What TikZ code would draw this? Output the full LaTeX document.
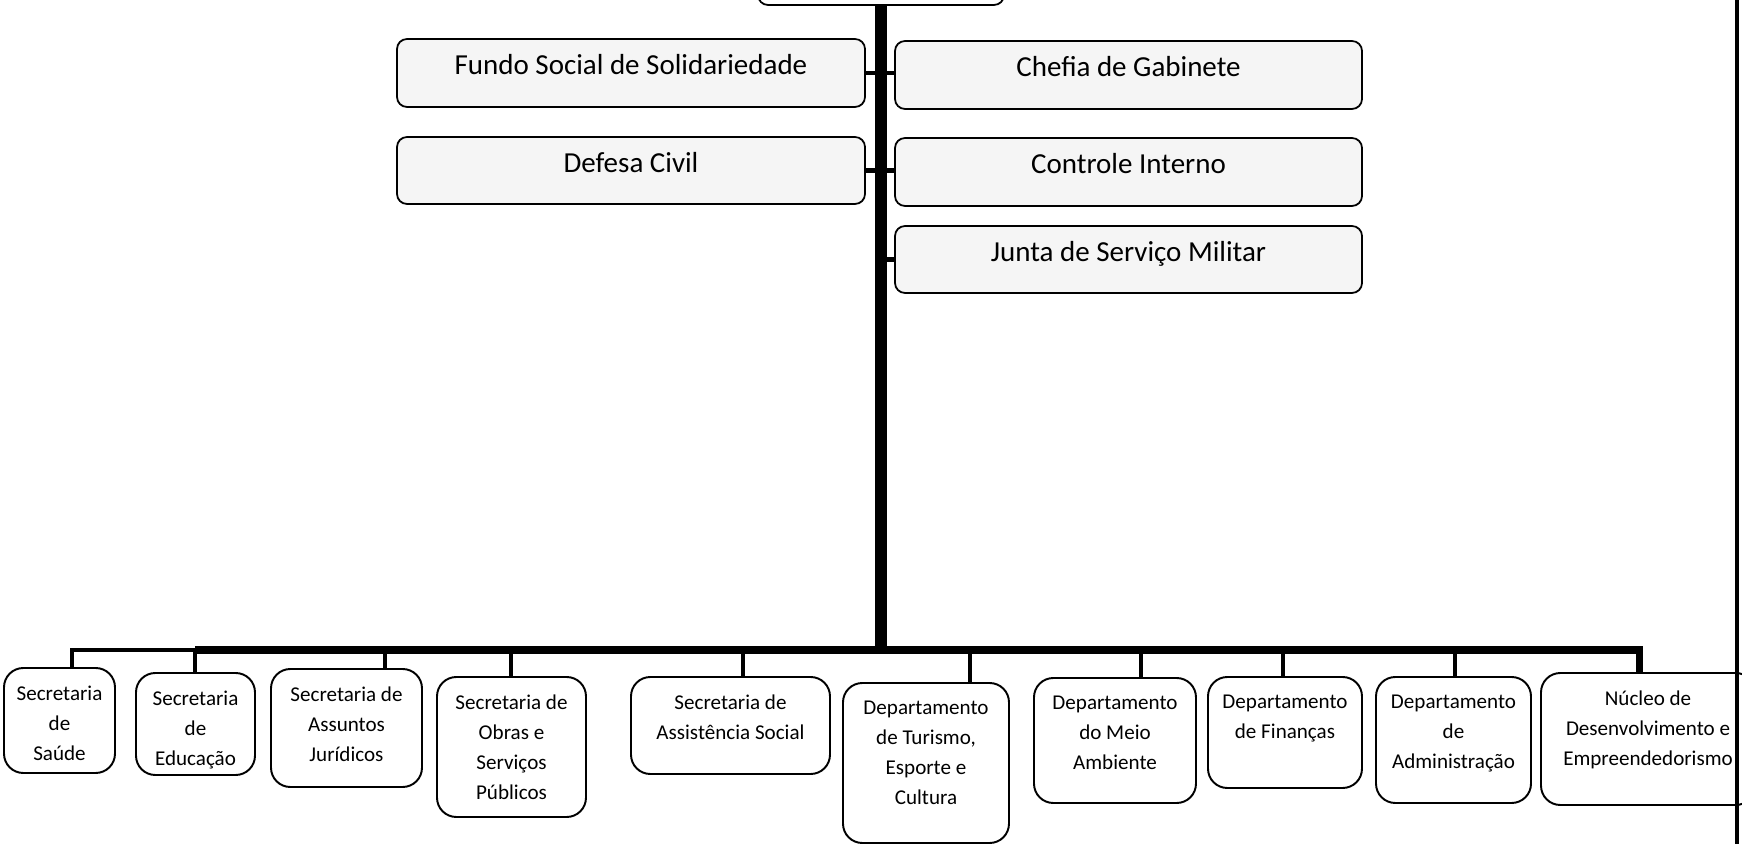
\documentclass[tikz,border=0pt]{standalone}
\usepackage{fontspec}
\setmainfont{Carlito}

\tikzset{
  unidade/.style={draw, line width=1pt, rounded corners=5.7pt, fill=black!4, inner sep=0pt, outer sep=0pt},
  setor/.style={draw, line width=1.1pt, rounded corners=11pt, fill=white, inner sep=0pt, outer sep=0pt},
  tam/.style 2 args={minimum width=(#1)*0.02cm, minimum height=(#2)*0.02cm},
  rotulo/.style={anchor=north, yshift=-0.3cm, inner sep=0pt, font=\fontsize{16.5}{20}\selectfont},
  rotulob/.style={anchor=north, yshift=-0.36cm, inner sep=0pt, align=center, font=\fontsize{12}{17}\selectfont},
  tronco/.style={line width=6.8pt},
  barra/.style={line width=4pt},
  ramo/.style={line width=2.8pt},
}

\begin{document}
\begin{tikzpicture}[x=0.02cm, y=-0.02cm]
\clip (0,0) rectangle (1742,844);
\fill[white] (0,0) rectangle (1742,844);

% topo (cortado)
\node[unidade, fill=white, tam={246}{60}] (prefeito) at (881,-25) {};

% assessorias
\node[unidade, tam={468}{68}, label={[rotulo]north:Fundo Social de Solidariedade}] (fundo) at (631,73) {};
\node[unidade, tam={467}{68}, label={[rotulo]north:Chefia de Gabinete}] (chefia) at (1128.5,75) {};
\node[unidade, tam={468}{67}, label={[rotulo]north:Defesa Civil}] (defesa) at (631,170.5) {};
\node[unidade, tam={467}{68}, label={[rotulo]north:Controle Interno}] (controle) at (1128.5,172) {};
\node[unidade, tam={467}{67}, label={[rotulo]north:Junta de Serviço Militar}] (junta) at (1128.5,259.5) {};

% secretarias e departamentos
\foreach \nm/\xl/\yt/\xr/\yb/\xs/\txt in {
    saude/4/668/115/773/72/{Secretaria\\de\\Saúde},
    educacao/136/673/255/775/195/{Secretaria\\de\\Educação},
    juridicos/271/669/422/787/385/{Secretaria de\\Assuntos\\Jurídicos},
    obras/437/677/586/817/511/{Secretaria de\\Obras e\\Serviços\\Públicos},
    social/631/677/830/774/743/{Secretaria de\\Assistência Social},
    turismo/843/683/1009/843/970/{Departamento\\de Turismo,\\Esporte e\\Cultura},
    ambiente/1034/678/1196/803/1141/{Departamento\\do Meio\\Ambiente},
    financas/1208/677/1362/788/1283/{Departamento\\de Finanças},
    admin/1376/677/1531/803/1455/{Departamento\\de\\Administração},
    nucleo/1541/673/1755/805/1639/{Núcleo de\\Desenvolvimento e\\Empreendedorismo}}{
  \node[setor, tam={\xr-\xl}{\yb-\yt}, label={[rotulob]north:\txt}] (\nm) at ({(\xl+\xr)/2},{(\yt+\yb)/2}) {};
  \coordinate (b-\nm) at (\xs,650);
  \draw[ramo] (b-\nm) -- (b-\nm |- \nm.north);
}

% ligacoes
\coordinate (eixo) at (881,650);
\draw[ramo] (fundo.east) -- (fundo.east -| chefia.west);
\draw[ramo] (defesa.east) -- (defesa.east -| controle.west);
\draw[ramo] (junta.west -| prefeito.south) -- (junta.west);
\draw[tronco] (prefeito.south) -- (eixo);
\draw[barra] (b-educacao) -- (b-nucleo) -- (b-nucleo |- nucleo.north);
\draw[line width=2.6pt] (b-educacao) -- (b-saude) -- (b-saude |- saude.north);

% margem da folha
\draw[line width=2.6pt] (1737,0) -- (1737,844);
\end{tikzpicture}
\end{document}
